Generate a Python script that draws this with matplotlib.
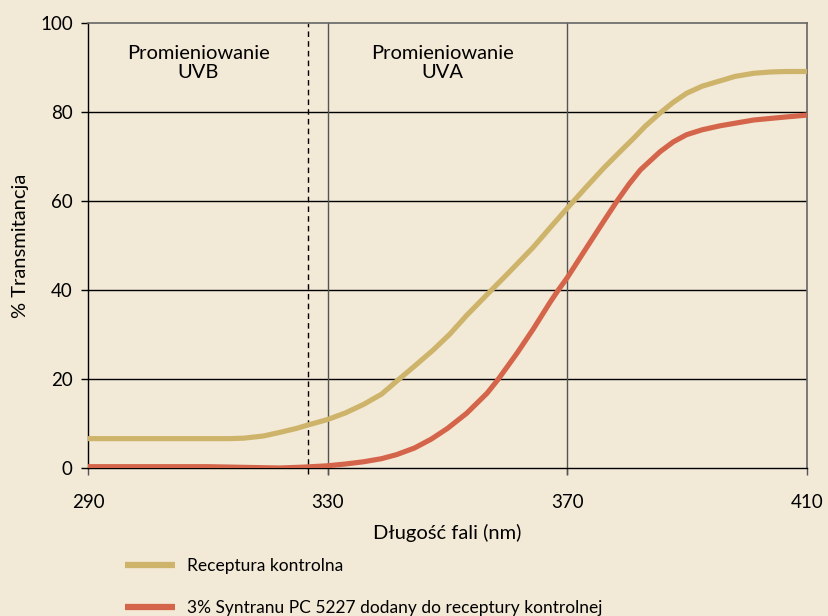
import matplotlib
matplotlib.use("Agg")
import matplotlib.pyplot as plt
from matplotlib.lines import Line2D

plt.rcParams['font.family'] = ['Lato', 'DejaVu Sans']

# ---- data ----
wl_control = [290, 300, 310, 313.7, 316, 319.3, 322, 324.8, 326.8, 330, 333, 336, 339,
              341.5, 344.5, 347.6, 350.4, 353.2, 357.2, 360, 364.3, 367, 370, 373,
              376, 378.8, 381, 383, 385.5, 387.7, 389.9, 392.5, 395.5, 398, 401.1,
              404, 406.6, 410]
tr_control = [6.6, 6.6, 6.6, 6.6, 6.7, 7.2, 8.0, 8.9, 9.7, 10.9, 12.4, 14.3, 16.6,
              19.5, 22.9, 26.5, 30.1, 34.3, 39.8, 43.6, 49.6, 53.8, 58.4, 62.9,
              67.3, 71.1, 74.0, 76.8, 79.8, 82.2, 84.2, 85.8, 87.0, 88.0, 88.7,
              89.0, 89.1, 89.1]

wl_syntran = [290, 300, 310, 314, 318, 322, 326, 330, 333, 336, 339, 341.5, 344.5,
              347.3, 350, 353.2, 356.6, 358.5, 361.6, 364.3, 367.1, 368.5, 370, 373.3,
              376, 378.3, 380.3, 382.2, 385.5, 387.7, 389.9, 392.5, 395.5, 401.1,
              406.6, 410]
tr_syntran = [0.3, 0.3, 0.3, 0.2, 0.1, 0.0, 0.2, 0.5, 0.9, 1.4, 2.1, 3.0, 4.5,
              6.5, 8.9, 12.3, 16.8, 20.0, 25.8, 31.2, 37.2, 40.0, 42.8, 49.7,
              55.3, 60.0, 63.8, 67.0, 71.1, 73.3, 74.9, 76.0, 76.9, 78.2,
              78.9, 79.3]

x_ticks = [290, 330, 370, 410]
y_ticks = [0, 20, 40, 60, 80, 100]
region_lines = [330, 370]
uvb_uva_boundary = 326.8
region_labels = ["Promieniowanie\nUVB", "Promieniowanie\nUVA"]
region_label_x = [308.4, 349.1]
region_label_y = 95.0

series_labels = ["Receptura kontrolna", "3% Syntranu PC 5227 dodany do receptury kontrolnej"]
colors = ["#cdb46a", "#d4644a"]
bg = "#f2e9d6"

fig = plt.figure(figsize=(8.29, 6.16), dpi=100, facecolor=bg)
ax = fig.add_axes([88/829, 1-468/616, (807-88)/829, (468-23)/616], facecolor=bg)

ax.set_xlim(290, 410)
ax.set_ylim(0, 100)

for y in y_ticks[1:-1]:
    ax.axhline(y, color="black", lw=1.0, zorder=1)
for x in region_lines:
    ax.axvline(x, ymin=-0.0135, ymax=1, color="#555555", lw=1.0, zorder=1, clip_on=False)
ax.axvline(uvb_uva_boundary, ymin=-0.0135, ymax=1, color="black", lw=1.0,
           ls=(0, (4, 3)), zorder=1, clip_on=False)

ax.plot(wl_control, tr_control, color=colors[0], lw=3.7, solid_capstyle='butt',
        solid_joinstyle='round', zorder=3)
ax.plot(wl_syntran, tr_syntran, color=colors[1], lw=3.7, solid_capstyle='butt',
        solid_joinstyle='round', zorder=3)

for s in ['left', 'bottom']:
    ax.spines[s].set_color('black')
    ax.spines[s].set_linewidth(1.0)
for s in ['top', 'right']:
    ax.spines[s].set_color('#666666')
    ax.spines[s].set_linewidth(1.2)

ax.set_xticks(x_ticks)
ax.set_yticks(y_ticks)
ax.tick_params(axis='x', length=5, width=1.0, color='#555555', pad=14, labelsize=13.5)
ax.tick_params(axis='y', length=5, width=1.0, color='black', pad=6, labelsize=13.5)

for lx, lab in zip(region_label_x, region_labels):
    ax.text(lx, region_label_y, lab, ha='center', va='top', fontsize=14.5, linespacing=1.1)

ax.set_xlabel("Długość fali (nm)", fontsize=14.5, labelpad=9)
ax.set_ylabel("% Transmitancja", fontsize=14.5, labelpad=8)

handles = [Line2D([], [], color=c, lw=4.5, solid_capstyle='butt') for c in colors]
fig.legend(handles, series_labels, loc='upper left', bbox_to_anchor=(109/829, 1-542/616),
           frameon=False, fontsize=12.5, handlelength=2.9, handletextpad=0.7,
           labelspacing=1.5)

fig.savefig("out.png", dpi=100, facecolor=bg)
